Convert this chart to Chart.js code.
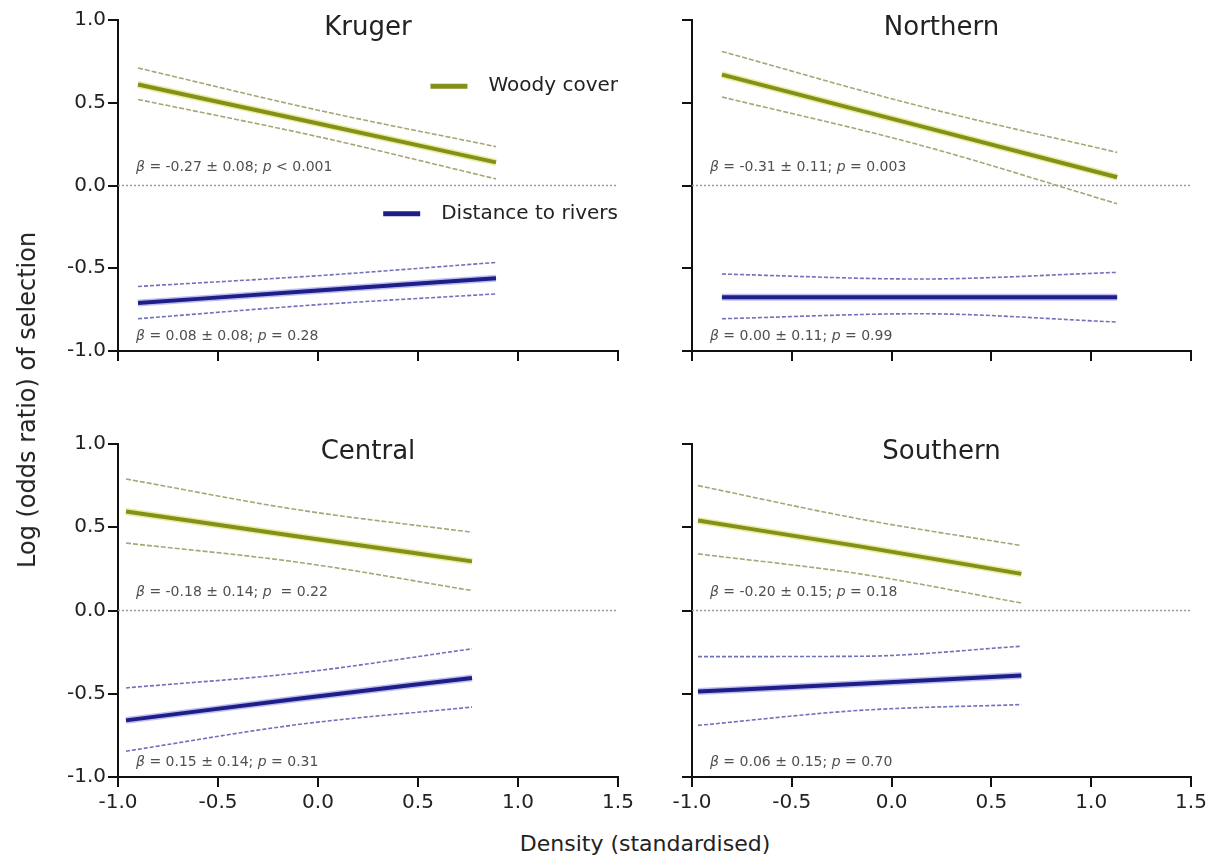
<!DOCTYPE html>
<html>
<head>
<meta charset="utf-8">
<script src="https://cdn.jsdelivr.net/npm/chart.js@4.4.1/dist/chart.umd.min.js"></script>
<style>
  body { margin: 0; background: #fff; width: 1215px; height: 859px; overflow: hidden; position: relative; font-family: "DejaVu Sans", sans-serif; color: #222; }
  .panel { position: absolute; }
  #ytitle { position: absolute; left: 27px; top: 400px; transform: translate(-50%, -50%) rotate(-90deg); font-size: 24px; white-space: nowrap; }
  #xtitle { position: absolute; left: 645px; top: 843px; transform: translate(-50%, -50%); font-size: 22px; white-space: nowrap; }
</style>
</head>
<body>
<div class="panel" style="left:0;top:0;width:640px;height:420px"><canvas id="c0"></canvas></div>
<div class="panel" style="left:640px;top:0;width:575px;height:420px"><canvas id="c1"></canvas></div>
<div class="panel" style="left:0;top:420px;width:640px;height:400px"><canvas id="c2"></canvas></div>
<div class="panel" style="left:640px;top:420px;width:575px;height:400px"><canvas id="c3"></canvas></div>
<div id="ytitle">Log (odds ratio) of selection</div>
<div id="xtitle">Density (standardised)</div>
<script>
// axis ticks
const X_TICKS = [-1.0, -0.5, 0.0, 0.5, 1.0, 1.5];
const Y_TICKS = [-1.0, -0.5, 0.0, 0.5, 1.0];

// Kruger (whole park)
const krugerX = [-0.90, 0.00, 0.89];
const krugerWoody = [0.61, 0.375, 0.14];
const krugerWoodyHi = [0.71, 0.455, 0.235];
const krugerWoodyLo = [0.52, 0.295, 0.04];
const krugerRivers = [-0.71, -0.635, -0.56];
const krugerRiversHi = [-0.61, -0.545, -0.465];
const krugerRiversLo = [-0.805, -0.72, -0.655];

// Northern
const northernX = [-0.85, 0.14, 1.13];
const northernWoody = [0.67, 0.36, 0.05];
const northernWoodyHi = [0.81, 0.48, 0.20];
const northernWoodyLo = [0.535, 0.245, -0.11];
const northernRivers = [-0.675, -0.675, -0.675];
const northernRiversHi = [-0.535, -0.565, -0.525];
const northernRiversLo = [-0.805, -0.775, -0.825];

// Central
const centralX = [-0.96, -0.10, 0.77];
const centralWoody = [0.595, 0.445, 0.295];
const centralWoodyHi = [0.79, 0.605, 0.47];
const centralWoodyLo = [0.405, 0.29, 0.12];
const centralRivers = [-0.66, -0.53, -0.405];
const centralRiversHi = [-0.465, -0.375, -0.23];
const centralRiversLo = [-0.845, -0.685, -0.58];

// Southern
const southernX = [-0.97, -0.16, 0.65];
const southernWoody = [0.54, 0.385, 0.22];
const southernWoodyHi = [0.75, 0.55, 0.39];
const southernWoodyLo = [0.34, 0.22, 0.045];
const southernRivers = [-0.487, -0.44, -0.39];
const southernRiversHi = [-0.277, -0.275, -0.215];
const southernRiversLo = [-0.69, -0.60, -0.565];

// slope ± se and p per panel: [woody, rivers]
const krugerStats = [['-0.27 ± 0.08', '< 0.001'], ['0.08 ± 0.08', '= 0.28']];
const northernStats = [['-0.31 ± 0.11', '= 0.003'], ['0.00 ± 0.11', '= 0.99']];
const centralStats = [['-0.18 ± 0.14', ' = 0.22'], ['0.15 ± 0.14', '= 0.31']];
const southernStats = [['-0.20 ± 0.15', '= 0.18'], ['0.06 ± 0.15', '= 0.70']];

const WOODY = '#84901a';
const WOODY_HALO = 'rgba(214,222,80,0.55)';
const WOODY_CI = '#a6a676';
const RIVERS = '#1e1e88';
const RIVERS_HALO = 'rgba(110,110,225,0.45)';
const RIVERS_CI = '#7070bb';
const FONT = '"DejaVu Sans", sans-serif';

const panels = [
  { id: 'c0', name: 'Kruger', x: krugerX, woody: [krugerWoody, krugerWoodyHi, krugerWoodyLo],
    rivers: [krugerRivers, krugerRiversHi, krugerRiversLo], stats: krugerStats,
    left: true, bottom: false, yw: 118, pad: { top: 20, right: 22 }, xh: 69, legend: true },
  { id: 'c1', name: 'Northern', x: northernX, woody: [northernWoody, northernWoodyHi, northernWoodyLo],
    rivers: [northernRivers, northernRiversHi, northernRiversLo], stats: northernStats,
    left: false, bottom: false, yw: 52, pad: { top: 20, right: 24 }, xh: 69 },
  { id: 'c2', name: 'Central', x: centralX, woody: [centralWoody, centralWoodyHi, centralWoodyLo],
    rivers: [centralRivers, centralRiversHi, centralRiversLo], stats: centralStats,
    left: true, bottom: true, yw: 118, pad: { top: 24, right: 22 }, xh: 43 },
  { id: 'c3', name: 'Southern', x: southernX, woody: [southernWoody, southernWoodyHi, southernWoodyLo],
    rivers: [southernRivers, southernRiversHi, southernRiversLo], stats: southernStats,
    left: false, bottom: true, yw: 52, pad: { top: 24, right: 24 }, xh: 43 },
];

function pts(xs, ys) {
  return xs.map((x, i) => ({ x, y: ys[i] }));
}

function line(data, color, width, dash) {
  return {
    data, borderColor: color, borderWidth: width, borderDash: dash || [],
    pointRadius: 0, fill: false, cubicInterpolationMode: 'monotone', borderCapStyle: 'butt',
  };
}

function richText(ctx, x, y, parts, size) {
  parts.forEach(p => {
    ctx.font = (p.i ? 'italic ' : '') + size + 'px ' + FONT;
    ctx.fillText(p.t, x, y);
    x += ctx.measureText(p.t).width;
  });
}

const decor = {
  id: 'decor',
  beforeDatasetsDraw(chart, args, opts) {
    const { ctx, chartArea: a, scales: { y } } = chart;
    const y0 = y.getPixelForValue(0);
    ctx.save();
    ctx.strokeStyle = '#9a9a9a';
    ctx.lineWidth = 1.5;
    ctx.setLineDash([2, 2]);
    ctx.beginPath();
    ctx.moveTo(a.left, y0);
    ctx.lineTo(a.right, y0);
    ctx.stroke();
    ctx.restore();
  },
  afterDraw(chart, args, opts) {
    const { ctx, chartArea: a, scales: { x, y } } = chart;
    const p = opts.panel;
    ctx.save();
    ctx.fillStyle = '#222';
    ctx.font = '26px ' + FONT;
    ctx.textAlign = 'center';
    ctx.textBaseline = 'middle';
    ctx.fillText(p.name, (a.left + a.right) / 2, a.top + 8);

    ctx.textAlign = 'left';
    ctx.fillStyle = '#505050';
    const tx = x.getPixelForValue(-0.91);
    [[p.stats[0], 0.11], [p.stats[1], -0.91]].forEach(([s, yv]) => {
      richText(ctx, tx, y.getPixelForValue(yv), [
        { t: 'β', i: true }, { t: ' = ' + s[0] + '; ' }, { t: 'p', i: true }, { t: ' ' + s[1] },
      ], 14);
    });

    if (p.legend) {
      ctx.font = '20px ' + FONT;
      ctx.fillStyle = '#222';
      [['Woody cover', WOODY, 0.60], ['Distance to rivers', RIVERS, -0.17]].forEach(([label, col, yv]) => {
        const yy = y.getPixelForValue(yv);
        const w = ctx.measureText(label).width;
        const start = a.right - w;
        ctx.textAlign = 'left';
        ctx.fillText(label, start, yy);
        ctx.strokeStyle = col;
        ctx.lineWidth = 5;
        ctx.beginPath();
        ctx.moveTo(start - 58, yy);
        ctx.lineTo(start - 21, yy);
        ctx.stroke();
      });
    }
    ctx.restore();
  }
};

panels.forEach(p => {
  const datasets = [
    line(pts(p.x, p.woody[0]), WOODY, 4),
    line(pts(p.x, p.rivers[0]), RIVERS, 4),
    line(pts(p.x, p.woody[0]), WOODY_HALO, 7),
    line(pts(p.x, p.rivers[0]), RIVERS_HALO, 7),
    line(pts(p.x, p.woody[1]), WOODY_CI, 1.6, [5, 2]),
    line(pts(p.x, p.woody[2]), WOODY_CI, 1.6, [5, 2]),
    line(pts(p.x, p.rivers[1]), RIVERS_CI, 1.6, [4, 2]),
    line(pts(p.x, p.rivers[2]), RIVERS_CI, 1.6, [4, 2]),
  ];
  const axisGrid = { drawOnChartArea: false, drawTicks: true, tickLength: 10, color: '#111', lineWidth: 2 };
  new Chart(document.getElementById(p.id), {
    type: 'line',
    data: { datasets },
    plugins: [decor],
    options: {
      responsive: true,
      maintainAspectRatio: false,
      animation: false,
      devicePixelRatio: 1,
      layout: { padding: { top: p.pad.top, right: p.pad.right, left: 0, bottom: 0 } },
      plugins: {
        legend: { display: false },
        tooltip: { enabled: false },
        decor: { panel: p },
      },
      scales: {
        x: {
          type: 'linear', min: -1, max: 1.5,
          afterBuildTicks: s => { s.ticks = X_TICKS.map(v => ({ value: v })); },
          afterFit: s => { s.height = p.xh; },
          ticks: { display: p.bottom, color: '#222', padding: 4, font: { family: FONT, size: 20 },
                   callback: v => Number(v).toFixed(1) },
          grid: axisGrid,
          border: { color: '#111', width: 2 },
        },
        y: {
          min: -1, max: 1,
          afterBuildTicks: s => { s.ticks = Y_TICKS.map(v => ({ value: v })); },
          afterFit: s => { s.width = p.yw; },
          ticks: { display: p.left, color: '#222', padding: 2, font: { family: FONT, size: 20 },
                   callback: v => Number(v).toFixed(1) },
          grid: axisGrid,
          border: { color: '#111', width: 2 },
        },
      },
    },
  });
});
</script>
</body>
</html>
